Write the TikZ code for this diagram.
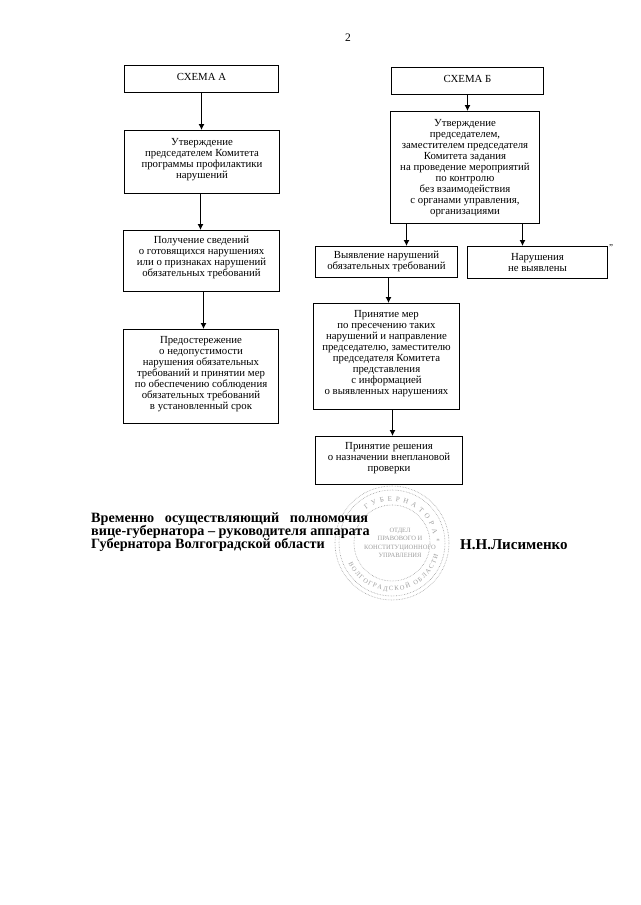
\documentclass[tikz,border=0pt]{standalone}
\usepackage{fontspec}
\setmainfont{Liberation Serif}
\usetikzlibrary{arrows.meta,decorations.text}
\definecolor{stampgray}{gray}{0.62}
\tikzset{
  x=1pt,y=-1pt,
  flowbox/.style={draw,line width=1pt,align=center,inner sep=0pt,font=\fontsize{10.8}{11}\selectfont,anchor=north west},
  flowarrow/.style={draw,line width=1pt,-{Latex[length=6pt,width=6pt]}},
  signtext/.style={font=\fontsize{14.2}{13}\bfseries\selectfont,anchor=west,align=left,inner sep=0pt},
  nametext/.style={font=\fontsize{15}{16}\bfseries\selectfont,anchor=west,inner sep=0pt},
  stampring/.style={draw=stampgray,line width=0.6pt,densely dotted},
  stamplabel/.style={text=stampgray,font=\fontsize{6.5}{8.5}\selectfont,align=center,inner sep=0pt}
}
\newcommand{\fbx}[7]{\node[flowbox,minimum width=#4pt-#2pt,minimum height=#5pt-#3pt] (#1) at (#2,#3) {#6\\[#7pt]\mbox{}};}
\begin{document}
\begin{tikzpicture}
\useasboundingbox (0,0) rectangle (640,905);
\node[inner sep=0pt,font=\fontsize{11.5}{13}\selectfont] (pagenum) at (348,38) {2};
\fbx{aa}{124}{65}{278}{92}{СХЕМА А}{-6}
\fbx{ab}{124}{130}{279}{193}{Утверждение\\председателем Комитета\\программы профилактики\\нарушений}{-3}
\fbx{ac}{123}{230}{279}{291}{Получение сведений\\о готовящихся нарушениях\\или о признаках нарушений\\обязательных требований}{-2}
\fbx{ad}{123}{329}{278}{423}{Предостережение\\о недопустимости\\нарушения обязательных\\требований и принятии мер\\по обеспечению соблюдения\\обязательных требований\\в установленный срок}{-3}
\fbx{ba}{391}{67}{543}{94}{СХЕМА Б}{-6}
\fbx{bb}{390}{111}{539}{223}{Утверждение\\председателем,\\заместителем председателя\\Комитета задания\\на проведение мероприятий\\по контролю\\без взаимодействия\\с органами управления,\\организациями}{-10}
\fbx{bc}{315}{246}{457}{277}{Выявление нарушений\\обязательных требований}{-8}
\fbx{bd}{467}{246}{607}{278}{Нарушения\\не выявлены}{-11}
\fbx{be}{313}{303}{459}{409}{Принятие мер\\по пресечению таких\\нарушений и направление\\председателю, заместителю\\председателя Комитета\\представления\\с информацией\\о выявленных нарушениях}{-3}
\fbx{bf}{315}{436}{462}{484}{Принятие решения\\о назначении внеплановой\\проверки}{-4}
\draw[flowarrow] ([xshift=0pt]aa.south) -- ([xshift=-0.5pt]ab.north);
\draw[flowarrow] ([xshift=-1.5pt]ab.south) -- ([xshift=-1pt]ac.north);
\draw[flowarrow] ([xshift=2pt]ac.south) -- ([xshift=2.5pt]ad.north);
\draw[flowarrow] ([xshift=0pt]ba.south) -- ([xshift=2.5pt]bb.north);
\draw[flowarrow] ([xshift=-58.5pt]bb.south) -- ([xshift=20pt]bc.north);
\draw[flowarrow] ([xshift=57.5pt]bb.south) -- ([xshift=-15pt]bd.north);
\draw[flowarrow] ([xshift=2pt]bc.south) -- ([xshift=2pt]be.north);
\draw[flowarrow] ([xshift=6pt]be.south) -- ([xshift=3.5pt]bf.north);
\node[inner sep=0pt,font=\fontsize{9}{10}\selectfont] (quote) at (611,248) {”};
% stamp
\coordinate (stampc) at (392,543);
\draw[stampring] (stampc) circle[radius=57];
\draw[stampring] (stampc) circle[radius=53];
\draw[stampring] (stampc) circle[radius=38];
\path[postaction={decorate,decoration={text along path,text align=fit to path,
  text={|\fontsize{7}{9}\selectfont\color{stampgray}|ГУБЕРНАТОРА}}}]
  (stampc) ++(-128:42) arc[start angle=-128,end angle=-12,radius=42];
\path[postaction={decorate,decoration={text along path,text align=fit to path,
  text={|\fontsize{6.5}{9}\selectfont\color{stampgray}|ВОЛГОГРАДСКОЙ ОБЛАСТИ}}}]
  (stampc) ++(155:48) arc[start angle=155,end angle=15,radius=48];
\node[inner sep=0pt,text=stampgray,font=\fontsize{7}{8}\selectfont] (stampstar) at (438,541) {*};
\node[stamplabel] (stamptext) at (400,543) {ОТДЕЛ\\ПРАВОВОГО И\\КОНСТИТУЦИОННОГО\\УПРАВЛЕНИЯ};
% signature
\node[signtext] (sign) at (91,532.5) {Временно\ \ \ осуществляющий\ \ \ полномочия\\[-1.2pt]вице-губернатора – руководителя аппарата\\[-1.2pt]Губернатора Волгоградской области};
\node[nametext] (name) at (460,545) {Н.Н.Лисименко};
\end{tikzpicture}
\end{document}
